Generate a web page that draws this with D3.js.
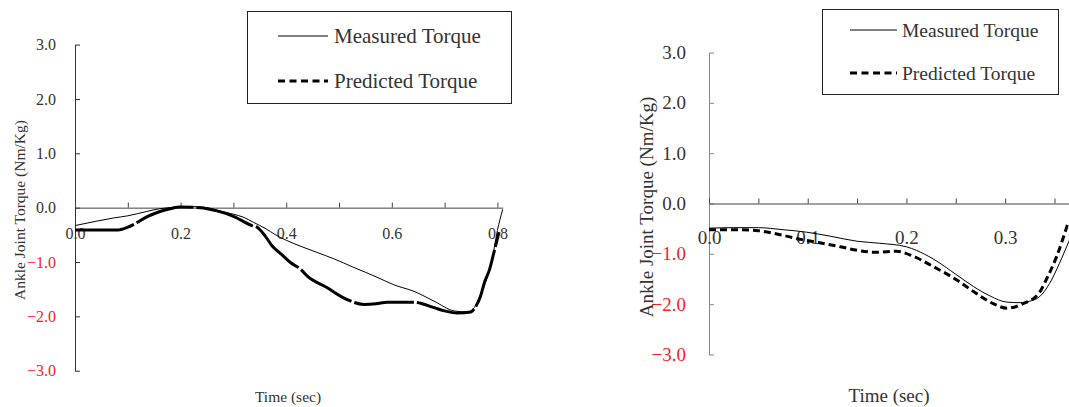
<!DOCTYPE html>
<html>
<head>
<meta charset="utf-8">
<script src="https://cdn.jsdelivr.net/npm/d3@7"></script>
<style>
  body { margin: 0; background: #fff; }
  svg { display: block; }
  text { font-family: "Liberation Serif", "Times New Roman", serif; fill: #333; }
</style>
</head>
<body>
<script>
// data
var yTicks = [3, 2, 1, 0, -1, -2, -3];

// left panel
var leftMeasuredT = [0, 0.04, 0.073, 0.1, 0.136, 0.16, 0.18, 0.2, 0.22, 0.25, 0.27, 0.3, 0.32, 0.338, 0.36, 0.38, 0.4, 0.43, 0.46, 0.49, 0.528, 0.572, 0.604, 0.642, 0.68, 0.718, 0.743, 0.756, 0.768, 0.78, 0.79, 0.8, 0.81];
var leftMeasuredV = [-0.33, -0.25, -0.19, -0.15, -0.07, -0.02, 0.0, 0.02, 0.02, 0.0, -0.05, -0.12, -0.18, -0.27, -0.38, -0.5, -0.6, -0.72, -0.83, -0.94, -1.1, -1.28, -1.42, -1.54, -1.72, -1.9, -1.92, -1.84, -1.6, -1.3, -0.95, -0.42, -0.03];
var leftPredictedT = [0, 0.04, 0.082, 0.1, 0.111, 0.136, 0.161, 0.18, 0.2, 0.237, 0.269, 0.3, 0.335, 0.345, 0.36, 0.373, 0.39, 0.408, 0.427, 0.44, 0.477, 0.515, 0.547, 0.57, 0.591, 0.642, 0.68, 0.7, 0.724, 0.75, 0.759, 0.768, 0.775, 0.785, 0.794, 0.803];
var leftPredictedV = [-0.41, -0.41, -0.41, -0.36, -0.31, -0.17, -0.07, -0.02, 0.01, 0.0, -0.06, -0.16, -0.33, -0.36, -0.52, -0.7, -0.85, -1.01, -1.13, -1.26, -1.47, -1.69, -1.78, -1.77, -1.74, -1.74, -1.84, -1.9, -1.94, -1.92, -1.82, -1.63, -1.39, -1.14, -0.8, -0.45];

// right panel
var rightMeasuredT = [0, 0.025, 0.05, 0.075, 0.099, 0.123, 0.15, 0.173, 0.2, 0.21, 0.227, 0.251, 0.268, 0.285, 0.302, 0.315, 0.325, 0.335, 0.345, 0.355, 0.365];
var rightMeasuredV = [-0.49, -0.48, -0.48, -0.52, -0.57, -0.65, -0.75, -0.79, -0.86, -0.93, -1.1, -1.42, -1.65, -1.84, -1.96, -1.97, -1.94, -1.85, -1.59, -1.19, -0.73];
var rightPredictedT = [0, 0.031, 0.05, 0.072, 0.092, 0.112, 0.133, 0.153, 0.17, 0.19, 0.207, 0.227, 0.251, 0.268, 0.288, 0.302, 0.318, 0.334, 0.342, 0.352, 0.364];
var rightPredictedV = [-0.52, -0.52, -0.54, -0.62, -0.71, -0.78, -0.86, -0.94, -0.97, -0.95, -1.05, -1.25, -1.52, -1.75, -1.99, -2.08, -1.99, -1.79, -1.5, -1.06, -0.37];

var legendLabels = ['Measured Torque', 'Predicted Torque'];
var yTitle = 'Ankle Joint Torque (Nm/Kg)';
var xTitle = 'Time (sec)';

var serif = '"Liberation Serif", "Times New Roman", serif';

var svg = d3.select('body')
	.append('svg')
	.attr('width', 1069)
	.attr('height', 407);

function zip (t, v) {
	return t.map(function (d, i) { return { t: d, v: v[i] }; });
}

function drawPanel (cfg) {
	var x = d3.scaleLinear().domain(cfg.xDomain).range(cfg.xRange);
	var y = d3.scaleLinear().domain([-3, 3]).range(cfg.yRange);
	var g = svg.append('g');

	// y axis (ticks point inward)
	var yAxis = d3.axisLeft(y)
		.tickValues(yTicks)
		.tickSizeInner(-5)
		.tickSizeOuter(0)
		.tickPadding(cfg.yPad)
		.tickFormat(d3.format('.1f'));
	var ya = g.append('g')
		.attr('transform', 'translate(' + x(0) + ',0)')
		.call(yAxis)
		.attr('font-family', null);
	ya.select('.domain').attr('stroke', cfg.yAxisColor);
	ya.selectAll('.tick line').attr('stroke', cfg.yAxisColor);
	ya.selectAll('.tick text')
		.style('font-family', serif)
		.style('font-size', cfg.tickFont + 'px')
		.style('fill', function (d) { return d < 0 ? '#ff1a1a' : '#333'; });

	// x axis along zero line, ticks point up
	var xAxis = d3.axisBottom(x)
		.tickValues(d3.range(0, cfg.xDomain[1], cfg.xStep))
		.tickSizeInner(-5)
		.tickSizeOuter(0)
		.tickPadding(cfg.xPad)
		.tickFormat(function (d) {
			var k = Math.round(d / cfg.labelStep * 1000) / 1000;
			return Math.abs(k - Math.round(k)) < 1e-6 ? d3.format('.1f')(d) : '';
		});
	var xa = g.append('g')
		.attr('transform', 'translate(0,' + y(0) + ')')
		.call(xAxis)
		.attr('font-family', null);
	xa.select('.domain').attr('stroke', '#444');
	xa.selectAll('.tick line').attr('stroke', '#444');
	xa.selectAll('.tick text')
		.style('font-family', serif)
		.style('font-size', cfg.tickFont + 'px')
		.style('fill', '#333');

	var line = d3.line()
		.x(function (d) { return x(d.t); })
		.y(function (d) { return y(d.v); })
		.curve(d3.curveMonotoneX);

	g.append('path')
		.datum(zip(cfg.predT, cfg.predV))
		.attr('fill', 'none')
		.attr('stroke', '#000')
		.attr('stroke-width', 3)
		.attr('stroke-dasharray', cfg.dash)
		.attr('d', line);

	g.append('path')
		.datum(zip(cfg.measT, cfg.measV))
		.attr('fill', 'none')
		.attr('stroke', '#000')
		.attr('stroke-width', 1)
		.attr('d', line);

	// titles
	g.append('text')
		.attr('transform', 'translate(' + cfg.yTitlePos[0] + ',' + cfg.yTitlePos[1] + ') rotate(-90)')
		.attr('text-anchor', 'middle')
		.attr('dy', '0.35em')
		.attr('font-size', cfg.titleFont)
		.text(yTitle);
	g.append('text')
		.attr('x', cfg.xTitlePos[0])
		.attr('y', cfg.xTitlePos[1])
		.attr('text-anchor', 'middle')
		.attr('dy', '0.35em')
		.attr('font-size', cfg.titleFont)
		.text(xTitle);

	// legend
	var lg = cfg.legend;
	g.append('rect')
		.attr('x', lg.x + 0.5)
		.attr('y', lg.y + 0.5)
		.attr('width', lg.w)
		.attr('height', lg.h)
		.attr('fill', '#fff')
		.attr('stroke', '#222');
	legendLabels.forEach(function (label, i) {
		var cy = lg.rows[i];
		g.append('line')
			.attr('x1', lg.lineX[0])
			.attr('x2', lg.lineX[1])
			.attr('y1', cy)
			.attr('y2', cy)
			.attr('stroke', '#000')
			.attr('stroke-width', i === 0 ? 1 : 3)
			.attr('stroke-dasharray', i === 0 ? null : '7,4.5');
		g.append('text')
			.attr('x', lg.textX)
			.attr('y', cy)
			.attr('dy', '0.35em')
			.attr('font-size', lg.font)
			.text(label);
	});
}

drawPanel({
	xDomain: [0, 0.81], xRange: [75, 502.7], xStep: 0.1, labelStep: 0.2,
	yRange: [370.7, 44.6],
	yPad: 19, xPad: 20, tickFont: 16, titleFont: 15.5,
	yAxisColor: '#333',
	measT: leftMeasuredT, measV: leftMeasuredV,
	predT: leftPredictedT, predV: leftPredictedV,
	dash: '60,3',
	yTitlePos: [20, 210], xTitlePos: [288, 397],
	legend: { x: 247, y: 11, w: 264, h: 92, rows: [36, 81], lineX: [278, 328], textX: 334, font: 21 }
});

drawPanel({
	xDomain: [0, 0.365], xRange: [709, 1069.3], xStep: 0.05, labelStep: 0.1,
	yRange: [354.5, 52.5],
	yPad: 23, xPad: 27, tickFont: 19, titleFont: 19,
	yAxisColor: '#888',
	measT: rightMeasuredT, measV: rightMeasuredV,
	predT: rightPredictedT, predV: rightPredictedV,
	dash: '7,4',
	yTitlePos: [646, 207], xTitlePos: [889, 395],
	legend: { x: 822, y: 9, w: 236, h: 85, rows: [30, 73], lineX: [850, 897], textX: 902, font: 19.5 }
});
</script>
</body>
</html>
